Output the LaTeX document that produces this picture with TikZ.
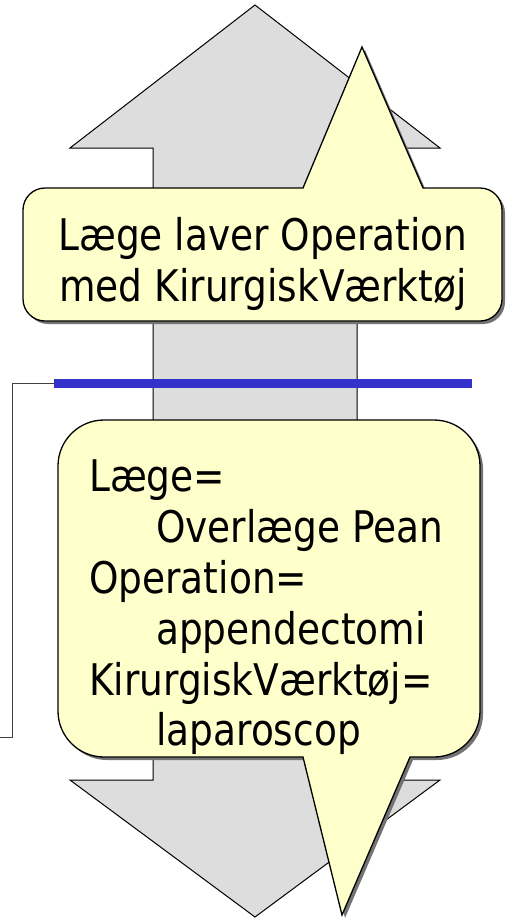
\documentclass[tikz,border=0pt]{standalone}
\usepackage{fontspec}
\setmainfont[FakeStretch=0.86]{DejaVu Sans}
\usetikzlibrary{positioning}
\definecolor{arrowgray}{HTML}{DDDDDD}
\definecolor{noteyellow}{HTML}{FFFFCC}
\definecolor{barblue}{HTML}{3333CC}

\begin{document}
\begin{tikzpicture}[x=1pt, y=-1pt]
    % Define styles for the shapes
    \tikzstyle{arrow_body} = [
        fill=arrowgray, draw=black, line width=1pt
    ]
    \tikzstyle{note_body} = [
        fill=noteyellow, draw=black, line width=1.3pt
    ]
    \tikzstyle{note_shade} = [fill=black!55, draw=none]
    \tikzstyle{note_text} = [
        inner sep=0, font=\fontsize{43.6}{50.8}\selectfont
    ]

    \useasboundingbox (0,0) rectangle (510,921);

    % Double arrow
    \draw[arrow_body] (255,5) -- (440,148) -- (357,148) -- (357,780)
        -- (440,780) -- (255,917) -- (70,780) -- (153,780)
        -- (153,148) -- (70,148) -- cycle;

    % Bar and bracket
    \coordinate (bar_l) at (54,383);
    \coordinate (bar_r) at (472,383);
    \coordinate (brk_end) at (0,737);
    \draw[barblue, line width=9pt] (bar_l) -- (bar_r);
    \draw[black!75, line width=0.8pt] (bar_l) -- ++(-42,0) |- (brk_end);

    % Upper note
    \foreach \dd/\st in {3/note_shade, 0/note_body} {
        \path[\st, shift={(\dd,\dd)}] (23,255) [rounded corners=22]
            -- (23,188) [sharp corners] -- (303,188) -- (362,47)
            -- (423,188) [rounded corners=22] -- (502,188) -- (502,321)
            -- (23,321) -- cycle;
    }
    \node[note_text, anchor=north, align=center] (top_txt) at (263,217)
        {Læge laver Operation\\med KirurgiskVærktøj};

    % Lower note
    \foreach \dd/\st in {3/note_shade, 0/note_body} {
        \path[\st, shift={(\dd,\dd)}] (58,600) [rounded corners=46]
            -- (58,420) -- (480,420) -- (480,757) [sharp corners]
            -- (410,757) -- (342,915) -- (303,757) [rounded corners=46]
            -- (58,757) -- cycle;
    }
    \node[note_text, anchor=north west, align=left] (low_txt) at (89,460)
        {Læge=\\\hspace*{67pt}Overlæge Pean\\Operation=\\
         \hspace*{67pt}appendectomi\\KirurgiskVærktøj=\\
         \hspace*{67pt}laparoscop};

\end{tikzpicture}
\end{document}
